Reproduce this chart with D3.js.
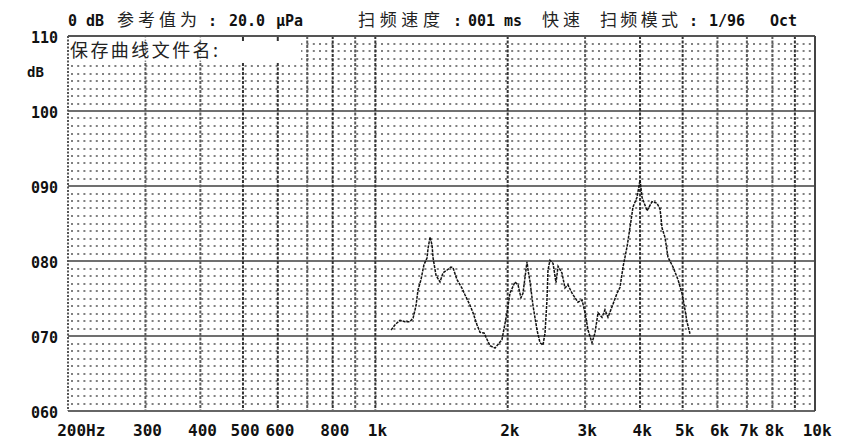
<!DOCTYPE html>
<html><head><meta charset="utf-8">
<script src="https://cdn.jsdelivr.net/npm/d3@7/dist/d3.min.js"></script>
<style>
html,body{margin:0;padding:0;background:#fff;}
svg{display:block;}
.lbl{font-family:"DejaVu Sans Mono","Liberation Mono",monospace;font-weight:bold;fill:#111;}
.cjk{font-family:"Noto Sans CJK SC",sans-serif;fill:#222;}
</style></head>
<body>
<svg id="c" width="850" height="444"></svg>
<script>
// ---- data ----
const freqHz = [1086,1109,1138,1168,1199,1219,1238,1250,1270,1290,1311,1318,1332,1346,1353,1374,1403,1425,1456,1486,1502,1534,1574,1599,1642,1668,1703,1730,1767,1823,1872,1941,1993,2024,2078,2112,2144,2167,2213,2225,2249,2283,2332,2369,2406,2432,2457,2470,2496,2536,2576,2604,2658,2700,2743,2802,2890,2952,2999,3046,3110,3159,3210,3278,3329,3382,3454,3546,3602,3659,3737,3796,3855,3937,4000,4042,4150,4258,4373,4442,4489,4560,4631,4754,4880,4984,5062,5115,5196];
const levelDb = [70.8,71.5,72.1,71.9,71.9,72.4,74.1,76.1,77.5,79.5,80.4,81.7,83.2,82.1,80.4,78.1,77.2,78.4,78.8,79.2,79.1,77.5,76.4,75.5,74.1,73.1,71.5,70.5,70.4,68.7,68.4,69.5,73.1,75.7,77.2,76.8,75.1,75.7,79.9,78.8,77.2,74.1,70.8,69.1,68.8,70.4,74.8,78.8,80.1,79.7,77.1,79.3,78.4,76.4,76.8,75.7,74.5,74.8,73.1,70.8,69.1,70.4,73.1,72.5,73.5,72.5,73.9,75.7,76.5,79.2,81.9,84.5,87.2,88.5,90.8,88.5,86.7,87.9,87.7,86.9,84.4,83.1,80.5,79.2,77.5,75.7,73.5,71.9,70.3];
const gridFreqs = [300,400,500,600,700,800,900,1000,2000,3000,4000,5000,6000,7000,8000,9000];
const darkFreqs = [500,600,800,1000,2000,4000,5000,9000];
const xTickValues = [200,300,400,500,600,800,1000,2000,3000,4000,5000,6000,7000,8000,10000];
const xTickLabels = ["200Hz","300","400","500","600","800","1k","2k","3k","4k","5k","6k","7k","8k","10k"];
const yTickValues = [60,70,80,90,100,110];
const headerParts = [
  {t:"0 dB",x:68,k:"l"},{t:"参考值为",x:117,k:"c",w:80},{t:":",x:208,k:"l"},{t:"20.0",x:229,k:"l"},{t:"µPa",x:276,k:"l"},
  {t:"扫频速度",x:358,k:"c",w:82},{t:":",x:453,k:"l"},{t:"001",x:468,k:"l"},{t:"ms",x:504,k:"l"},{t:"快速",x:542,k:"c",w:38},
  {t:"扫频模式",x:600,k:"c",w:78},{t:":",x:689,k:"l"},{t:"1/96",x:709,k:"l"},{t:"Oct",x:770,k:"l"}
];

const svg = d3.select("#c");
const L=68, R=815, T=36, B=411;
const x = d3.scaleLog().domain([200,10000]).range([L,R]);
const y = d3.scaleLinear().domain([60,110]).range([B,T]);

// dotted minor rows
const minor = d3.range(61,110).filter(v=>v%10!==0);
svg.append("g").selectAll("line").data(minor).join("line")
  .attr("x1",L+3).attr("x2",R).attr("y1",d=>Math.round(y(d))).attr("y2",d=>Math.round(y(d)))
  .attr("stroke","#808080").attr("stroke-width",2).attr("stroke-dasharray","2 4.2");

// major horizontal lines
svg.append("g").selectAll("line").data([70,80,90,100]).join("line")
  .attr("x1",L).attr("x2",R).attr("y1",d=>y(d)).attr("y2",d=>y(d))
  .attr("stroke","#707070").attr("stroke-width",2);

// vertical grid lines
svg.append("g").selectAll("line").data(gridFreqs).join("line")
  .attr("x1",d=>x(d)).attr("x2",d=>x(d)).attr("y1",T).attr("y2",B)
  .attr("stroke",d=>darkFreqs.includes(d)?"#333":"#5a5a5a")
  .attr("stroke-width",2).attr("stroke-dasharray","3 1.5");

// white file-name box
svg.append("rect").attr("x",L+1).attr("y",T+1).attr("width",232).attr("height",26).attr("fill","#fff");
svg.append("g").selectAll("line").data([300,400]).join("line")
  .attr("x1",d=>x(d)).attr("x2",d=>x(d)).attr("y1",T).attr("y2",T+27)
  .attr("stroke","#888").attr("stroke-width",1.5).attr("stroke-dasharray","1.5 2");
svg.append("g").selectAll("line").data([500,600]).join("line")
  .attr("x1",d=>x(d)).attr("x2",d=>x(d)).attr("y1",T).attr("y2",T+5)
  .attr("stroke","#333").attr("stroke-width",2);
svg.append("text").attr("class","cjk").attr("x",L+2).attr("y",T+21)
  .attr("font-size",18).attr("textLength",148).text("保存曲线文件名:");

// frame
svg.append("line").attr("x1",L).attr("x2",R).attr("y1",T).attr("y2",T).attr("stroke","#555").attr("stroke-width",2);
svg.append("line").attr("x1",L).attr("x2",R).attr("y1",B).attr("y2",B).attr("stroke","#666").attr("stroke-width",2);
svg.append("line").attr("x1",R).attr("x2",R).attr("y1",T).attr("y2",B).attr("stroke","#444").attr("stroke-width",2);
svg.append("line").attr("x1",L).attr("x2",L).attr("y1",T).attr("y2",B).attr("stroke","#555").attr("stroke-width",2).attr("stroke-dasharray","2 1.5");

// curve
const pts = freqHz.map((f,i)=>[f,levelDb[i]]);
svg.append("path").datum(pts)
  .attr("d",d3.line().x(d=>x(d[0])).y(d=>y(d[1])))
  .attr("fill","none").attr("stroke","#111").attr("stroke-width",1.5)
  .attr("stroke-dasharray","3 1");

// y axis
const ya = svg.append("g").attr("transform",`translate(${L-10},1)`)
  .call(d3.axisLeft(y).tickValues(yTickValues).tickFormat(d3.format("03d")).tickSize(0).tickPadding(0));
ya.select(".domain").remove();
ya.selectAll("text").attr("class","lbl").attr("font-size",15).attr("dy","0.35em");
svg.append("text").attr("class","lbl").attr("x",27).attr("y",77).attr("font-size",14).text("dB");

// x axis
const xa = svg.append("g").attr("transform",`translate(0,${B+14})`)
  .call(d3.axisBottom(x).tickValues(xTickValues).tickFormat((d,i)=>xTickLabels[i]).tickSize(0).tickPadding(0));
xa.select(".domain").remove();
xa.selectAll("text").attr("class","lbl").attr("font-size",16)
  .attr("dx",(d,i)=>i===0?"0.8em":"0.1em");

// header
svg.append("g").selectAll("text").data(headerParts).join("text")
  .attr("class",d=>d.k==="c"?"cjk":"lbl")
  .attr("x",d=>d.x).attr("y",26)
  .attr("font-size",d=>d.k==="c"?17:15)
  .attr("textLength",d=>d.w||null)
  .text(d=>d.t);
</script>
</body></html>
